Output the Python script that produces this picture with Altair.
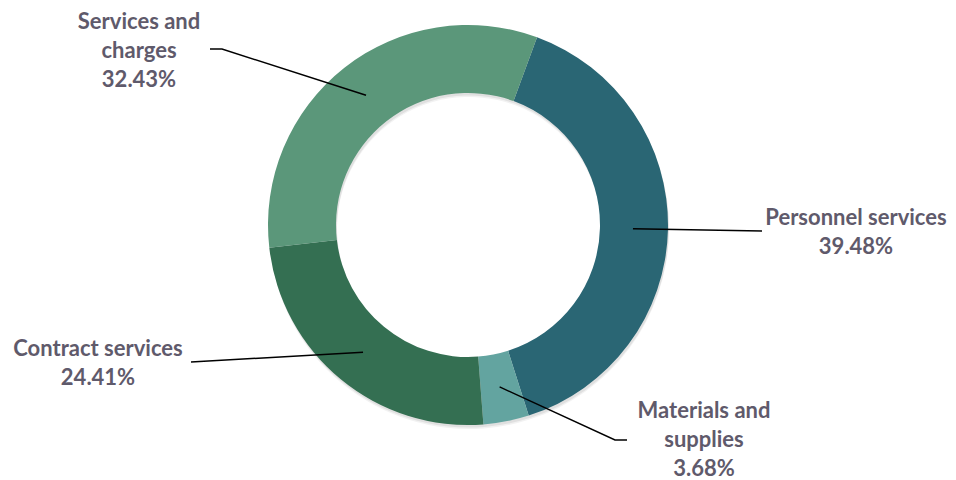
import math
import altair as alt
import pandas as pd

# ---- data ----
categories = ["Personnel services", "Materials and supplies", "Contract services", "Services and charges"]
values = [39.48, 3.68, 24.41, 32.43]
label_lines = [["Personnel services"], ["Materials and", "supplies"], ["Contract services"], ["Services and", "charges"]]
colors = ["#2a6674", "#63a4a0", "#346f52", "#5b977a"]

# ---- layout ----
W, H = 940, 472
CX, CY = 460, 217
R_OUT, R_IN = 200, 132
START = math.radians(20.2)
LEADER_R = 165
# label anchor (centre x, first line centre y), leader elbow and end
label_anchor = {
    "Personnel services": (848, 210),
    "Materials and supplies": (696, 403),
    "Contract services": (90, 341),
    "Services and charges": (131, 14),
}
leader_pts = {
    "Personnel services": [(754, 223)],
    "Materials and supplies": [(607, 432), (619, 432)],
    "Contract services": [(183, 354)],
    "Services and charges": [(214, 41), (202, 41)],
}
LINE_H = 29

arc_df = pd.DataFrame({"category": categories, "value": values, "order": range(len(categories))})

total = sum(values)
line_rows, text_rows = [], []
cum = 0.0
for cat, v, lines in zip(categories, values, label_lines):
    mid = START + (cum + v / 2) / total * 2 * math.pi
    cum += v
    sx = CX + LEADER_R * math.sin(mid)
    sy = CY - LEADER_R * math.cos(mid)
    pts = [(sx, sy)] + leader_pts[cat]
    for i, (px, py) in enumerate(pts):
        line_rows.append({"category": cat, "i": i, "x": px, "y": py})
    ax, ay = label_anchor[cat]
    all_lines = lines + [f"{v:.2f}%"]
    for j, t in enumerate(all_lines):
        text_rows.append({"category": cat, "text": t, "x": ax, "y": ay + j * LINE_H})

line_df = pd.DataFrame(line_rows)
text_df = pd.DataFrame(text_rows)

color_scale = alt.Scale(domain=categories, range=colors)
theta_scale = alt.Scale(range=[START, START + 2 * math.pi])


def shadow_layer(dx, dy, op):
    return alt.Chart(arc_df).mark_arc(radius=R_OUT, radius2=R_IN, color="#000000", opacity=op).encode(
        theta=alt.Theta("value:Q", stack=True, scale=theta_scale),
        order=alt.Order("order:Q"),
        x=alt.value(CX + dx), y=alt.value(CY + dy),
    )


shadows = [shadow_layer(1, 4, 0.05), shadow_layer(1, 2.5, 0.07)]

arcs = alt.Chart(arc_df).mark_arc(radius=R_OUT, radius2=R_IN).encode(
    theta=alt.Theta("value:Q", stack=True, scale=theta_scale),
    color=alt.Color("category:N", scale=color_scale, legend=None),
    order=alt.Order("order:Q"),
    x=alt.value(CX), y=alt.value(CY),
)

xs = alt.Scale(domain=[0, W], range=[0, W])
ys = alt.Scale(domain=[0, H], range=[0, H])

leaders = alt.Chart(line_df).mark_line(color="#000000", strokeWidth=1.5).encode(
    x=alt.X("x:Q", scale=xs, axis=None),
    y=alt.Y("y:Q", scale=ys, axis=None),
    detail="category:N",
    order="i:Q",
)

labels = alt.Chart(text_df).mark_text(
    font="Lato", fontWeight="bold", fontSize=22, color="#5f5a6b", align="center", baseline="middle"
).encode(
    x=alt.X("x:Q", scale=xs, axis=None),
    y=alt.Y("y:Q", scale=ys, axis=None),
    text="text:N",
)

chart = alt.layer(*shadows, arcs, leaders, labels).properties(
    width=W, height=H, autosize=alt.AutoSizeParams(type="none"), padding=0
).configure_view(stroke=None)

chart.save("out.html", embed_options={"renderer": "svg", "actions": False})
